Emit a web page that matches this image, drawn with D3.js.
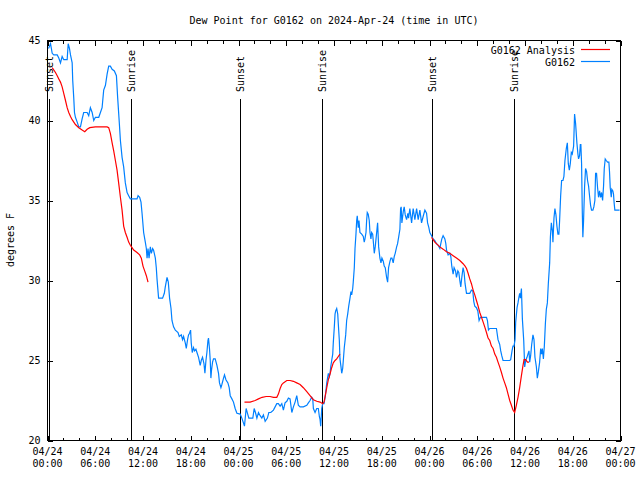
<!DOCTYPE html>
<html><head><meta charset="utf-8">
<script src="https://cdn.jsdelivr.net/npm/d3@7"></script>
<style>
body{margin:0;background:#fff}
text{font-family:"DejaVu Sans Mono","Liberation Mono",monospace;font-size:10px;fill:#000}
</style>
</head><body><svg id="c" width="640" height="480"></svg>
<script>
const chartTitle = "Dew Point for G0162 on 2024-Apr-24 (time in UTC)";
const yAxisLabel = "degrees F";
const startUTC = Date.UTC(2024, 3, 24, 0, 0);
const spanHours = 72;
const xTickHours = [0, 6, 12, 18, 24, 30, 36, 42, 48, 54, 60, 66, 72];
const xTickDates = ["04/24","04/24","04/24","04/24","04/25","04/25","04/25","04/25","04/26","04/26","04/26","04/26","04/27"];
const xTickTimes = ["00:00","06:00","12:00","18:00","00:00","06:00","12:00","18:00","00:00","06:00","12:00","18:00","00:00"];
const yTicks = [20, 25, 30, 35, 40, 45];
const eventLabels = ["Sunset", "Sunrise", "Sunset", "Sunrise", "Sunset", "Sunrise"];
const eventHours = [0.15, 10.53, 24.21, 34.54, 48.33, 58.62];
const seriesNames = ["G0162 Analysis", "G0162"];
const seriesColors = ["#ff0000", "#0080ff"];

// observed dew point [hours since 04/24 00:00 UTC, degF]
const observed = [
[0.13,44.5],[0.38,44.8],[0.59,44.2],[0.79,44.1],[1.22,44.1],[1.42,43.9],[1.63,43.6],[1.84,44.0],[2.04,43.8],[2.47,43.8],
[2.60,44.8],[2.76,44.5],[2.89,44.1],[3.10,43.6],[3.17,42.5],[3.30,41.4],[3.39,40.5],[3.51,40.2],[3.73,39.9],[3.93,39.6],
[4.14,39.6],[4.35,40.1],[4.55,40.5],[4.98,40.5],[5.18,40.3],[5.39,40.8],[5.61,40.5],[5.81,40.0],[6.02,40.2],[6.44,40.2],
[6.65,40.5],[6.86,40.8],[7.06,41.9],[7.28,42.2],[7.49,42.9],[7.69,43.4],[7.90,43.4],[8.12,43.2],[8.40,43.1],[8.66,42.8],
[8.82,41.4],[9.03,39.8],[9.16,38.75],[9.37,37.7],[9.57,37.1],[9.78,36.1],[10.00,35.5],[10.20,35.3],[10.41,35.1],[11.25,35.1],
[11.38,35.3],[11.58,35.2],[11.75,34.9],[11.88,34.2],[12.08,33.0],[12.29,32.4],[12.42,32.0],[12.51,31.4],[12.63,32.0],[12.76,31.4],
[12.92,32.1],[13.05,31.7],[13.21,32.0],[13.33,31.9],[13.55,31.4],[13.67,30.8],[13.76,30.1],[13.96,28.9],[14.46,28.9],[14.68,29.2],
[14.80,29.6],[15.02,30.2],[15.18,29.9],[15.34,28.9],[15.52,28.25],[15.64,27.5],[15.84,27.1],[16.06,26.9],[16.40,26.75],[16.56,26.5],
[16.81,26.6],[16.97,26.3],[17.10,26.5],[17.31,26.1],[17.44,25.75],[17.60,26.3],[17.72,26.6],[17.85,26.7],[17.98,26.9],[18.06,26.1],
[18.19,25.5],[18.35,25.8],[18.48,25.6],[18.65,25.7],[18.78,25.5],[18.98,25.2],[19.19,24.7],[19.32,25.0],[19.48,25.2],[19.66,24.8],
[19.78,24.2],[19.91,25.0],[20.03,25.5],[20.16,26.25],[20.23,26.4],[20.36,25.7],[20.45,25.0],[20.53,23.9],[20.61,24.4],[20.74,24.9],
[20.86,25.1],[21.07,25.1],[21.29,24.7],[21.49,24.2],[21.61,23.6],[21.79,23.3],[21.91,23.5],[22.12,23.9],[22.24,24.1],[22.42,23.8],
[22.67,23.6],[22.83,23.3],[22.96,22.8],[23.17,22.6],[23.37,22.4],[23.58,22.0],[23.80,21.7],[24.21,21.65],[24.42,21.4],[24.62,21.1],
[24.75,20.9],[24.96,22.0],[25.13,21.7],[25.30,21.4],[25.80,21.4],[25.97,22.0],[26.13,21.75],[26.31,21.4],[26.51,21.75],[26.72,21.55],
[26.93,21.4],[27.13,21.6],[27.35,21.2],[27.63,21.4],[27.81,21.75],[28.06,21.75],[28.39,21.9],[28.60,22.1],[28.81,22.3],[29.01,22.3],
[29.23,22.15],[29.44,22.3],[29.64,21.9],[29.85,22.35],[30.07,22.45],[30.27,22.65],[30.48,22.6],[30.70,21.75],[30.90,22.1],[31.11,22.4],
[31.32,22.8],[31.52,22.2],[31.74,22.1],[32.15,22.1],[32.58,22.2],[32.78,22.35],[32.99,22.5],[33.20,22.7],[33.33,22.6],[33.41,22.0],
[33.62,21.75],[33.83,22.0],[34.03,22.0],[34.16,21.5],[34.25,21.3],[34.33,20.9],[34.46,22.0],[34.58,22.3],[34.75,22.3],[34.91,22.8],
[35.09,23.6],[35.29,24.2],[35.41,24.0],[35.50,24.2],[35.59,24.6],[35.71,25.0],[35.84,25.4],[35.91,26.1],[36.04,27.1],[36.13,27.9],
[36.21,28.1],[36.34,28.25],[36.47,27.9],[36.54,27.3],[36.67,26.25],[36.75,25.1],[36.88,24.6],[36.97,24.2],[37.09,24.5],[37.17,25.0],
[37.29,25.8],[37.47,26.6],[37.59,27.5],[37.72,27.9],[37.85,28.4],[38.01,28.9],[38.13,29.3],[38.22,29.1],[38.35,29.5],[38.42,29.9],
[38.55,30.8],[38.64,32.0],[38.76,32.9],[38.85,33.75],[38.92,34.05],[39.05,33.3],[39.14,33.75],[39.26,33.0],[39.48,32.9],[39.68,32.75],
[39.80,32.4],[39.89,32.6],[40.02,33.0],[40.10,33.75],[40.18,34.25],[40.30,34.15],[40.43,33.75],[40.52,33.0],[40.64,32.6],[40.73,33.0],
[40.86,32.9],[40.93,32.5],[41.06,31.7],[41.18,32.1],[41.36,33.0],[41.48,33.6],[41.61,32.1],[41.77,31.4],[41.90,31.1],[42.02,31.4],
[42.19,31.2],[42.31,30.9],[42.44,30.8],[42.61,30.2],[42.74,29.9],[42.86,30.8],[43.03,31.2],[43.15,31.4],[43.28,31.4],[43.44,31.1],
[43.57,31.5],[43.69,31.7],[43.87,32.1],[43.99,32.3],[44.12,32.7],[44.28,33.2],[44.37,34.5],[44.44,34.6],[44.53,33.6],[44.70,34.3],
[44.82,34.6],[44.95,34.1],[45.12,33.8],[45.28,34.2],[45.37,33.9],[45.53,34.5],[45.75,33.6],[45.95,34.5],[46.16,33.8],[46.38,34.5],
[46.58,33.8],[46.79,34.4],[47.00,33.6],[47.20,34.0],[47.42,34.4],[47.63,34.2],[47.76,33.6],[47.92,33.3],[48.04,33.0],[48.26,32.8],
[48.46,32.6],[48.67,32.5],[48.88,32.3],[49.09,32.2],[49.30,32.0],[49.42,32.3],[49.55,32.6],[49.71,32.8],[49.93,32.6],[50.05,32.3],
[50.14,31.9],[50.34,31.6],[50.55,31.7],[50.68,31.5],[50.80,30.9],[50.97,30.4],[51.09,30.8],[51.27,30.6],[51.39,30.2],[51.56,30.6],
[51.68,30.5],[51.81,30.0],[51.93,29.6],[52.06,30.2],[52.22,30.8],[52.35,30.5],[52.47,29.8],[52.65,29.2],[52.85,29.2],[53.06,29.2],
[53.27,29.4],[53.44,29.35],[53.56,28.7],[53.69,28.4],[53.90,28.3],[54.07,28.1],[54.23,27.5],[54.40,27.7],[54.94,27.7],[55.16,27.7],
[55.28,27.5],[55.41,26.9],[55.57,27.0],[56.41,27.0],[56.61,26.3],[56.82,26.0],[56.95,25.6],[57.08,25.3],[57.24,25.0],[58.08,25.0],
[58.20,25.05],[58.37,25.6],[58.49,25.9],[58.62,25.9],[58.75,26.3],[58.83,27.4],[59.00,28.3],[59.12,28.6],[59.25,29.0],[59.33,29.2],
[59.42,28.9],[59.55,29.5],[59.67,27.6],[59.84,26.25],[59.96,24.6],[60.09,25.0],[60.25,25.2],[60.37,25.4],[60.50,25.6],[60.59,24.9],
[60.71,25.3],[60.84,26.0],[61.00,26.6],[61.13,26.3],[61.25,25.2],[61.43,24.6],[61.55,23.9],[61.68,24.3],[61.84,24.9],[61.97,25.75],
[62.09,25.4],[62.18,25.75],[62.31,25.1],[62.43,25.9],[62.56,27.3],[62.68,28.2],[62.81,28.6],[62.93,29.8],[63.10,31.1],[63.19,32.7],
[63.31,33.6],[63.44,33.1],[63.51,32.4],[63.64,33.9],[63.76,34.5],[63.89,34.1],[64.01,33.4],[64.14,32.9],[64.26,32.9],[64.35,33.75],
[64.48,35.3],[64.60,36.25],[64.77,36.25],[64.89,36.5],[65.02,37.5],[65.19,38.25],[65.32,38.6],[65.44,37.3],[65.57,36.9],[65.69,37.3],
[65.82,38.0],[65.94,37.9],[66.11,38.4],[66.23,40.4],[66.36,39.8],[66.52,38.6],[66.65,37.9],[66.73,37.6],[66.86,37.8],[66.95,38.5],
[67.02,38.5],[67.11,37.3],[67.20,34.25],[67.27,32.7],[67.36,33.75],[67.49,35.9],[67.61,37.0],[67.74,36.8],[67.86,36.25],[67.99,35.9],
[68.11,35.3],[68.24,34.7],[68.36,34.4],[68.53,34.4],[68.65,34.6],[68.78,35.0],[68.87,36.7],[68.99,36.7],[69.12,35.8],[69.24,35.2],
[69.37,35.6],[69.49,35.2],[69.62,35.5],[69.75,35.0],[69.87,35.9],[69.96,37.0],[70.08,37.6],[70.21,37.5],[70.37,37.4],[70.54,37.4],
[70.62,36.8],[70.71,35.8],[70.84,35.2],[70.91,35.7],[71.04,35.6],[71.12,35.4],[71.21,34.8],[71.29,34.4],[71.88,34.4]
];

// analysis dew point, null marks gaps
const analysis = [
[0.59,43.3],[1.00,43.0],[1.22,42.8],[1.42,42.6],[1.63,42.4],[1.84,42.1],[2.04,41.7],[2.26,41.25],[2.47,40.8],[2.67,40.5],
[2.89,40.25],[3.10,40.05],[3.51,39.75],[3.93,39.55],[4.35,39.4],[4.68,39.3],[4.98,39.45],[5.31,39.55],[6.02,39.6],[6.86,39.6],
[7.49,39.6],[7.69,39.55],[7.90,39.2],[8.12,38.6],[8.32,38.1],[8.53,37.5],[8.74,36.9],[8.94,36.1],[9.16,35.2],[9.37,34.4],
[9.57,33.4],[9.78,33.0],[10.00,32.7],[10.20,32.4],[10.41,32.2],[10.62,32.05],[10.83,31.9],[11.25,31.75],[11.58,31.6],[11.79,31.4],
[12.00,30.9],[12.21,30.6],[12.42,30.3],[12.63,29.9],
[18.0,null],
[24.75,22.4],[25.46,22.4],[26.09,22.5],[26.51,22.6],[26.97,22.7],[27.47,22.75],[27.97,22.75],[28.39,22.7],[28.81,22.7],[29.01,22.9],
[29.23,23.25],[29.44,23.5],[29.64,23.6],[30.07,23.75],[30.48,23.75],[30.90,23.7],[31.32,23.6],[31.74,23.5],[32.15,23.3],[32.58,23.05],
[32.99,22.8],[33.41,22.55],[33.83,22.45],[34.25,22.4],[34.58,22.3],[34.75,22.4],[34.91,22.8],[35.09,23.3],[35.29,23.8],[35.50,24.15],
[35.71,24.55],[35.91,24.85],[36.13,25.0],[36.34,25.1],[36.54,25.25],[36.75,25.4],
[42.0,null],
[48.26,32.7],[48.67,32.4],[49.30,32.1],[49.71,31.96],[50.14,31.8],[50.55,31.7],[50.97,31.55],[51.39,31.4],[51.81,31.25],[52.22,31.05],
[52.47,30.9],[52.65,30.75],[52.85,30.45],[53.06,30.1],[53.27,29.8],[53.48,29.4],[53.69,29.1],[53.90,28.75],[54.11,28.4],[54.32,28.0],
[54.53,27.7],[54.74,27.4],[54.94,27.1],[55.16,26.75],[55.36,26.4],[55.57,26.25],[55.78,25.9],[55.99,25.75],[56.20,25.4],[56.41,25.2],
[56.61,24.9],[56.82,24.6],[57.04,24.25],[57.24,23.9],[57.45,23.6],[57.66,23.3],[57.87,22.9],[58.08,22.5],[58.29,22.2],[58.49,21.9],
[58.70,21.75],[58.91,22.2],[59.12,22.7],[59.33,23.3],[59.55,24.05],[59.75,24.7],[59.88,25.05],[60.09,25.05],[60.30,24.9],[60.50,24.9]
];

const W = 640, H = 480;
const L = 47, R = 621, T = 40, B = 440;
const svg = d3.select("#c");
svg.append("rect").attr("width", W).attr("height", H).attr("fill", "#fff");

const toDate = h => new Date(startUTC + h * 3600e3);
const x = d3.scaleUtc().domain([toDate(0), toDate(spanHours)]).range([L + 0.5, R - 0.5]);
const y = d3.scaleLinear().domain([20, 45]).range([B + 0.5, T + 0.5]);

// title
svg.append("text").attr("x", (L + R) / 2).attr("y", 24).attr("text-anchor", "middle").text(chartTitle);
// y label
svg.append("text").attr("transform", `translate(14,${(T + B) / 2}) rotate(-90)`).attr("text-anchor", "middle").text(yAxisLabel);

const minorHours = d3.range(0, spanHours + 1, 2).filter(h => h % 6 !== 0);
const g = svg.append("g").attr("shape-rendering", "crispEdges");

// x axes (bottom & top) with inward ticks
g.append("g").attr("transform", `translate(0,${B + 0.5})`)
  .call(d3.axisBottom(x).tickValues(xTickHours.map(toDate)).tickSizeInner(-5).tickSizeOuter(0).tickFormat(""))
  .call(s => s.select(".domain").remove());
g.append("g").attr("transform", `translate(0,${B + 0.5})`)
  .call(d3.axisBottom(x).tickValues(minorHours.map(toDate)).tickSizeInner(-3).tickSizeOuter(0).tickFormat(""))
  .call(s => s.select(".domain").remove());
g.append("g").attr("transform", `translate(0,${T + 0.5})`)
  .call(d3.axisTop(x).tickValues(xTickHours.map(toDate)).tickSizeInner(-5).tickSizeOuter(0).tickFormat(""))
  .call(s => s.select(".domain").remove());
g.append("g").attr("transform", `translate(0,${T + 0.5})`)
  .call(d3.axisTop(x).tickValues(minorHours.map(toDate)).tickSizeInner(-3).tickSizeOuter(0).tickFormat(""))
  .call(s => s.select(".domain").remove());
// y axes
const yl = g.append("g").attr("transform", `translate(${L + 0.5},0)`)
  .call(d3.axisLeft(y).tickValues(yTicks).tickSizeInner(-5).tickSizeOuter(0).tickPadding(7))
  .call(s => s.select(".domain").remove());
yl.selectAll("text").attr("font-family", null).attr("font-size", null).attr("fill", null);
g.append("g").attr("transform", `translate(${R - 0.5},0)`)
  .call(d3.axisRight(y).tickValues(yTicks).tickSizeInner(-5).tickSizeOuter(0).tickFormat(""))
  .call(s => s.select(".domain").remove());
g.selectAll(".tick line").attr("stroke", "#000");

// x tick labels (two lines)
const xl = svg.append("g");
xTickHours.forEach((h, i) => {
  const t = xl.append("text").attr("text-anchor", "middle");
  t.append("tspan").attr("x", x(toDate(h))).attr("y", 455).text(xTickDates[i]);
  t.append("tspan").attr("x", x(toDate(h))).attr("y", 467).text(xTickTimes[i]);
});

// border
g.append("rect").attr("x", L + 0.5).attr("y", T + 0.5).attr("width", R - L - 1).attr("height", B - T)
  .attr("fill", "none").attr("stroke", "#000");

// sunrise / sunset markers
eventHours.forEach((h, i) => {
  const ex = Math.round(x(toDate(h))) + 0.5;
  g.append("line").attr("x1", ex).attr("x2", ex).attr("y1", 99).attr("y2", B)
    .attr("stroke", "#000").attr("stroke-width", 1.2);
  svg.append("text").attr("transform", `translate(${ex},92) rotate(-90)`)
    .attr("dy", "0.35em").attr("text-anchor", "start").text(eventLabels[i]);
});

// series lines
const line = d3.line().defined(d => d[1] != null).x(d => x(toDate(d[0]))).y(d => y(d[1]));
svg.append("path").datum(observed).attr("d", line).attr("fill", "none")
  .attr("stroke", seriesColors[1]).attr("stroke-width", 1.2);
svg.append("path").datum(analysis).attr("d", line).attr("fill", "none")
  .attr("stroke", seriesColors[0]).attr("stroke-width", 1.2);

// legend
const legendY = [50, 62];
seriesNames.forEach((n, i) => {
  svg.append("text").attr("x", 575).attr("y", legendY[i] + 4).attr("text-anchor", "end").text(n);
  svg.append("line").attr("x1", 581).attr("x2", 610).attr("y1", legendY[i] - 0.5).attr("y2", legendY[i] - 0.5)
    .attr("stroke", seriesColors[i]).attr("stroke-width", 1.2);
});
</script>
</body></html>
